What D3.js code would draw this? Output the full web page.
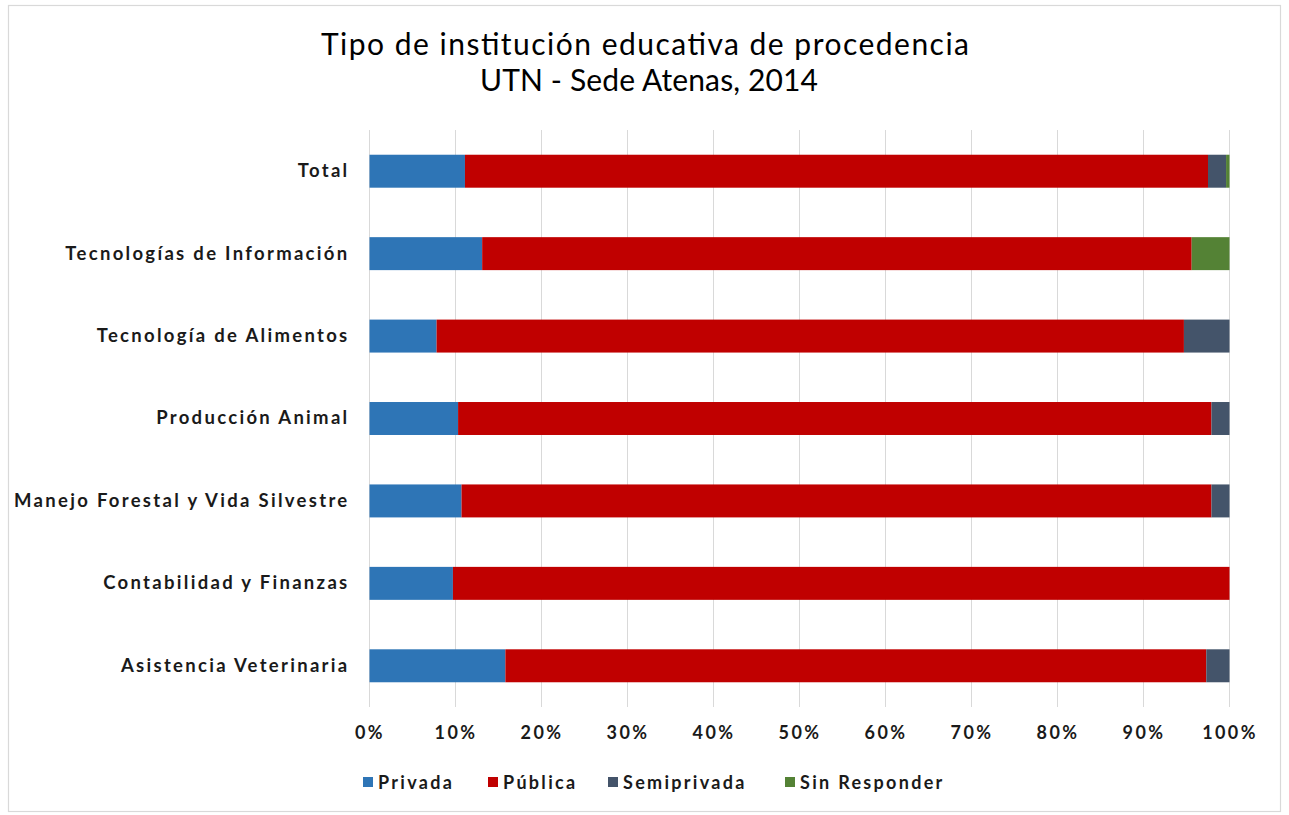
<!DOCTYPE html>
<html>
<head>
<meta charset="utf-8">
<script src="https://cdn.jsdelivr.net/npm/d3@7"></script>
<style>
  body { margin: 0; background: #fff; }
  svg text { font-family: Lato, "DejaVu Sans", sans-serif; }
  .frame { fill: #fff; stroke: #d9d9d9; stroke-width: 1.2; }
  .grid line { stroke: #d9d9d9; stroke-width: 1; }
  .cat-label { font-weight: 700; font-size: 18.5px; fill: #1a1a1a; letter-spacing: 2.3px; }
  .tick-label { font-weight: 700; font-size: 18px; fill: #1a1a1a; letter-spacing: 2.4px; }
  .legend-label { font-weight: 700; font-size: 18px; fill: #1a1a1a; letter-spacing: 2.3px; }
  .title { font-size: 30px; fill: #000; }
</style>
</head>
<body>
<div id="chart"></div>
<script>
// categories (top to bottom)
const categories = [
  "Total",
  "Tecnologías de Información",
  "Tecnología de Alimentos",
  "Producción Animal",
  "Manejo Forestal y Vida Silvestre",
  "Contabilidad y Finanzas",
  "Asistencia Veterinaria"
];

// series values (% of each row)
const privada      = [11.1, 13.1,  7.8, 10.3, 10.7,  9.7, 15.8];
const publica      = [86.4, 82.5, 86.9, 87.6, 87.2, 90.3, 81.5];
const semiprivada  = [ 2.1,  0.0,  5.3,  2.1,  2.1,  0.0,  2.7];
const sinResponder = [ 0.4,  4.4,  0.0,  0.0,  0.0,  0.0,  0.0];

const seriesNames = ["Privada", "Pública", "Semiprivada", "Sin Responder"];
const seriesColors = ["#2E75B6", "#C00000", "#44546A", "#548235"];
const xTicks = [0, 10, 20, 30, 40, 50, 60, 70, 80, 90, 100];

const W = 1289, H = 815;
const margin = { top: 130, right: 59.5, bottom: 108, left: 369.5 };
const plotW = W - margin.left - margin.right;
const plotH = H - margin.top - margin.bottom;

const rows = categories.map((c, i) => ({
  cat: c,
  "Privada": privada[i],
  "Pública": publica[i],
  "Semiprivada": semiprivada[i],
  "Sin Responder": sinResponder[i]
}));

const svg = d3.select("#chart").append("svg")
  .attr("width", W).attr("height", H);

svg.append("rect").classed("frame", true)
  .attr("x", 8.5).attr("y", 5.5).attr("width", 1272).attr("height", 806);

// title
svg.append("text").classed("title", true)
  .attr("x", 645).attr("y", 55).attr("text-anchor", "middle")
  .attr("textLength", 648).attr("lengthAdjust", "spacing")
  .text("Tipo de institución educativa de procedencia");
svg.append("text").classed("title", true)
  .attr("x", 649).attr("y", 91).attr("text-anchor", "middle")
  .attr("textLength", 338).attr("lengthAdjust", "spacing")
  .text("UTN - Sede Atenas, 2014");

const g = svg.append("g").attr("transform", "translate(" + margin.left + "," + margin.top + ")");

const xScale = d3.scaleLinear().domain([0, 100]).range([0, plotW]);
const yScale = d3.scaleBand().domain(categories).range([0, plotH]).paddingInner(0.6).paddingOuter(0.3);

// gridlines
g.append("g").classed("grid", true)
  .selectAll("line").data(xTicks).join("line")
  .attr("x1", d => xScale(d)).attr("x2", d => xScale(d))
  .attr("y1", 0).attr("y2", plotH);

// stacked bars
const stack = d3.stack().keys(seriesNames);
const stacked = stack(rows);
const colorScale = d3.scaleOrdinal().domain(seriesNames).range(seriesColors);

g.append("g").selectAll("g").data(stacked).join("g")
  .attr("fill", d => colorScale(d.key))
  .selectAll("rect").data(d => d).join("rect")
  .attr("x", d => xScale(d[0]))
  .attr("width", d => xScale(d[1]) - xScale(d[0]))
  .attr("y", d => yScale(d.data.cat))
  .attr("height", yScale.bandwidth());

// category labels
const yAxis = g.append("g").call(d3.axisLeft(yScale).tickSize(0).tickPadding(20));
yAxis.select(".domain").remove();
yAxis.selectAll("text").attr("class", "cat-label");

// x tick labels
const xAxis = g.append("g").attr("transform", "translate(0," + plotH + ")")
  .call(d3.axisBottom(xScale).tickValues(xTicks).tickSize(0).tickPadding(19).tickFormat(d => d + "%"));
xAxis.select(".domain").remove();
xAxis.selectAll("text").attr("class", "tick-label");

// legend
const legendX = [363, 488, 608, 785];
const legend = svg.append("g").selectAll("g").data(seriesNames).join("g")
  .attr("transform", (d, i) => "translate(" + legendX[i] + ",777)");
legend.append("rect")
  .attr("width", 10).attr("height", 10)
  .attr("fill", d => colorScale(d));
legend.append("text").classed("legend-label", true)
  .attr("x", 15).attr("y", 11.5)
  .text(d => d);
</script>
</body>
</html>
